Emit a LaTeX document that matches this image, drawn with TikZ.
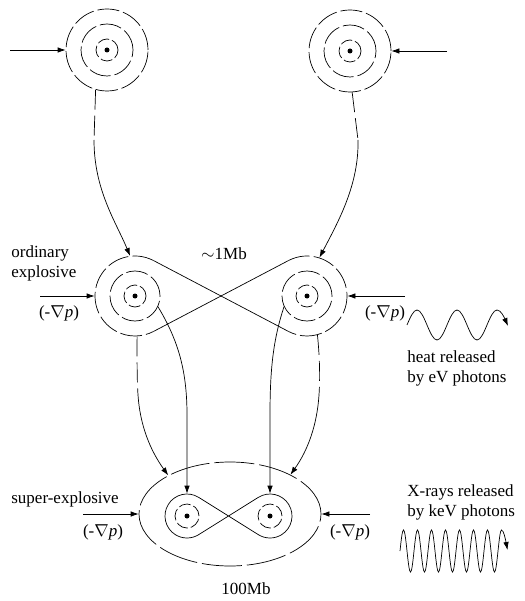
\documentclass[tikz,border=0pt]{standalone}
\usepackage{fontspec}
\setmainfont{Liberation Serif}
\usetikzlibrary{arrows.meta,shapes.geometric,calc}
\begin{document}
\begin{tikzpicture}[x=1pt,y=1pt,
  line width=0.7pt,
  lbl/.style={font=\fontsize{17}{20}\selectfont, inner sep=0pt},
  ringA/.style={circle, draw, dash pattern=on 22pt off 4pt, inner sep=0pt},
  ringB/.style={circle, draw, dash pattern=on 12pt off 3pt, inner sep=0pt},
  helper/.style={circle, inner sep=0pt},
  dotn/.style={circle, fill, minimum size=5pt, inner sep=0pt},
  outerarc/.style={dash pattern=on 22pt off 4pt},
  arr/.style={-{Latex[length=8pt,width=5.5pt]}},
  longdash/.style={dash pattern=on 20pt off 6pt},
]
\useasboundingbox (0,0) rectangle (524,-601);

% ---------- top pair ----------
\node[ringA, minimum size=82pt] (TL) at (107,-50) {};
\node[ringA, minimum size=52pt] (TLm) at (107,-50) {};
\node[ringB, minimum size=22pt] (TLi) at (107,-50) {};
\node[dotn] (TLd) at (107,-50) {};

\node[ringA, minimum size=82pt] (TR) at (350,-51) {};
\node[ringA, minimum size=52pt] (TRm) at (350,-51) {};
\node[ringB, minimum size=22pt] (TRi) at (350,-51) {};
\node[dotn] (TRd) at (350,-51) {};

\coordinate (inTL) at (10,-50);
\coordinate (inTR) at (447,-51);
\draw[arr] (inTL) -- (TL.west);
\draw[arr] (inTR) -- (TR.east);

% ---------- middle pair (ordinary explosive) ----------
\node[helper, minimum size=80pt] (ML) at (135,-296) {};
\node[ringA, minimum size=50pt] (MLm) at (135,-296) {};
\node[ringB, minimum size=22pt] (MLi) at (135,-296) {};
\node[dotn] (MLd) at (135,-296) {};

\node[helper, minimum size=80pt] (MR) at (307,-296) {};
\node[ringA, minimum size=50pt] (MRm) at (307,-296) {};
\node[ringB, minimum size=22pt] (MRi) at (307,-296) {};
\node[dotn] (MRd) at (307,-296) {};

\draw[outerarc] ($(ML)+(62.3:40)$) arc[start angle=62.3, end angle=297.7, radius=40];
\draw[outerarc] ($(MR)+(117.7:40)$) arc[start angle=117.7, end angle=-117.7, radius=40];
\draw ($(ML)+(62.3:40)$) -- ($(MR)+(-117.7:40)$);
\draw ($(ML)+(-62.3:40)$) -- ($(MR)+(117.7:40)$);

\coordinate (inML) at (40,-296);
\coordinate (inMR) at (405,-296);
\draw[arr] (inML) -- (ML.west);
\draw[arr] (inMR) -- (MR.east);

% top -> middle
\coordinate (kTL) at (94,-140);
\coordinate (kTR) at (358,-140);
\draw[longdash] (TL.-106) -- (kTL);
\draw[longdash] (TR.-87) -- (kTR);
\draw[arr] (kTL) .. controls (94,-190) and (116,-222) .. (ML.97);
\draw[arr] (kTR) .. controls (359,-185) and (338,-222) .. (MR.72);

% ---------- bottom (super-explosive) ----------
\node[ellipse, draw, dash pattern=on 40pt off 5pt, minimum width=182pt, minimum height=104pt, inner sep=0pt] (E) at (230,-514) {};

\node[helper, minimum size=44pt] (BL) at (187,-516) {};
\node[helper, minimum size=44pt] (BR) at (270,-516) {};
\node[ringB, minimum size=24pt] (BLi) at (187,-516) {};
\node[ringB, minimum size=24pt] (BRi) at (270,-516) {};
\node[dotn] (BLd) at (187,-516) {};
\node[dotn] (BRd) at (270,-516) {};
\draw ($(BL)+(58:22)$) arc[start angle=58, end angle=302, radius=22]
      -- ($(BR)+(122:22)$) arc[start angle=122, end angle=-122, radius=22] -- cycle;

\coordinate (inEL) at (83,-514);
\coordinate (inER) at (370,-514);
\draw[arr] (inEL) -- (E.west);
\draw[arr] (inER) -- (E.east);

% middle -> bottom
\coordinate (kBL) at (138,-395);
\coordinate (kBR) at (319,-395);
\draw[longdash] (ML.-87) .. controls (137,-360) and (137,-380) .. (kBL);
\draw[longdash] (MR.-75) .. controls (320,-360) and (320,-380) .. (kBR);
\draw[arr] (kBL) .. controls (140,-425) and (150,-450) .. (E.148);
\draw[arr] (kBR) .. controls (317,-425) and (308,-450) .. (E.33);
\draw[arr] (MLm.-25) .. controls (178,-340) and (187,-370) .. (187,-415) -- (BL.north);
\draw[arr] (MRm.-155) .. controls (273,-340) and (270,-370) .. (270,-415) -- (BR.north);

% ---------- waves ----------
\draw[arr] (407,-325) sin ++(10,15) cos ++(10,-15) sin ++(10,-15) cos ++(10,15)
  sin ++(10,15) cos ++(10,-15) sin ++(10,-15) cos ++(10,15)
  sin ++(10,15) cos ++(11,-16);
\draw[arr] (400,-551)
  \foreach \k in {1,...,7} {sin ++(3.5,21) cos ++(3.5,-21) sin ++(3.5,-21) cos ++(3.5,21)}
  sin ++(3.5,21) cos ++(6,-20);

% ---------- labels ----------
\node[lbl, anchor=west, align=left] (Lord) at (11,-263) {ordinary\\explosive};
\node[lbl] (L1) at (59,-313) {(-$\nabla$\textit{p})};
\node[lbl] (L2) at (385,-313) {(-$\nabla$\textit{p})};
\node[lbl] (L1Mb) at (224,-254) {$\sim$1Mb};
\node[lbl, anchor=west, align=left] (Lheat) at (407,-368) {heat released\\by eV photons};
\node[lbl, anchor=west] (Lsup) at (11,-499) {super-explosive};
\node[lbl] (L3) at (103,-532) {(-$\nabla$\textit{p})};
\node[lbl] (L4) at (350,-532) {(-$\nabla$\textit{p})};
\node[lbl, anchor=west, align=left] (Lx) at (407,-502) {X-rays released\\by keV photons};
\node[lbl] (L100) at (246,-589) {100Mb};
\end{tikzpicture}
\end{document}
